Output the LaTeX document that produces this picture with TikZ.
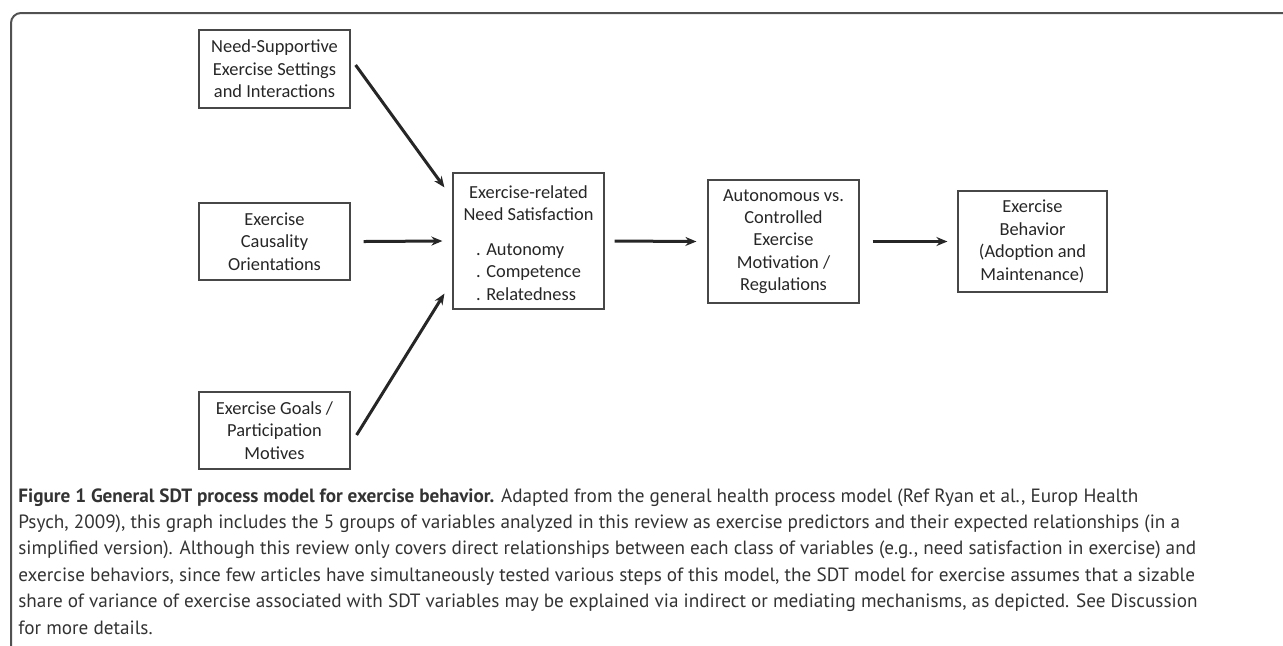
\documentclass[tikz,border=0pt]{standalone}
\usepackage{fontspec}
\setmainfont{Carlito}
\newfontfamily\capfont{PT Sans}
\usetikzlibrary{arrows.meta,calc}
\definecolor{ink}{HTML}{262626}
\definecolor{captext}{HTML}{333333}
\tikzset{
  box/.style={draw=ink!85,line width=0.6pt,text=ink,align=center,inner sep=0pt,
    minimum width=75.5pt,font=\fontsize{9.2}{11.2}\selectfont},
  link/.style={draw=ink,line width=1.5pt,-{Stealth[length=5.5pt,width=4.5pt]}}
}
\begin{document}
\begin{tikzpicture}[x=0.5pt,y=-0.5pt]
      \useasboundingbox (0,0) rectangle (1283,645);
      \draw[ink!80,line width=1pt,rounded corners=5pt] (11,650) -- (11,13) -- (1290,13);
      \node[box,minimum height=39pt] (need) at (274.5,69) {Need-Supportive\\Exercise Settings\\and Interactions};
      \node[box,minimum height=38.5pt] (caus) at (274.5,241.5) {Exercise\\Causality\\Orientations};
      \node[box,minimum height=38.5pt] (goal) at (274.5,430.5) {Exercise Goals /\\Participation\\Motives};
      \node[box,minimum height=68pt] (sat) at (528.5,241) {\rule{0pt}{11.5pt}Exercise-related\\Need Satisfaction\\[8.5pt]
        \begin{tabular}{@{}l@{}}. Autonomy\\. Competence\\. Relatedness\end{tabular}};
      \node[box,minimum height=61.5pt] (mot) at (783.5,241.5) {Autonomous vs.\\Controlled\\Exercise\\Motivation /\\Regulations};
      \node[box,minimum width=74.5pt,minimum height=50.5pt] (beh) at (1032.5,241.5) {Exercise\\Behavior\\(Adoption and\\Maintenance)};
      \coordinate (s1) at ($(need.east)+(5,-4)$);
      \coordinate (e1) at ($(sat.north west)+(-8,15)$);
      \coordinate (s3) at ($(goal.east)+(6,4.5)$);
      \coordinate (e3) at ($(sat.south west)+(-8,-16)$);
      \begin{scope}[link]
        \draw (s1) to (e1);
        \draw ([xshift=6.5pt]caus.east) to ([xshift=-5pt]sat.west);
        \draw (s3) to (e3);
        \draw ([xshift=5pt]sat.east) to ([xshift=-5.5pt]mot.west);
        \draw ([xshift=6.5pt]mot.east) to ([xshift=-5pt]beh.west);
      \end{scope}
      \node[anchor=north west,align=left,inner sep=0pt,text=captext,
        font=\capfont\fontsize{9.6}{13.2}\selectfont] (cap) at (18,488)
        {\textbf{Figure 1 General SDT process model for exercise behavior.} Adapted from the general health process model (Ref Ryan et al., Europ Health\\
        Psych, 2009), this graph includes the 5 groups of variables analyzed in this review as exercise predictors and their expected relationships (in a\\
        simplified version). Although this review only covers direct relationships between each class of variables (e.g., need satisfaction in exercise) and\\
        exercise behaviors, since few articles have simultaneously tested various steps of this model, the SDT model for exercise assumes that a sizable\\
        share of variance of exercise associated with SDT variables may be explained via indirect or mediating mechanisms, as depicted. See Discussion\\
        for more details.};
    \end{tikzpicture}
\end{document}
